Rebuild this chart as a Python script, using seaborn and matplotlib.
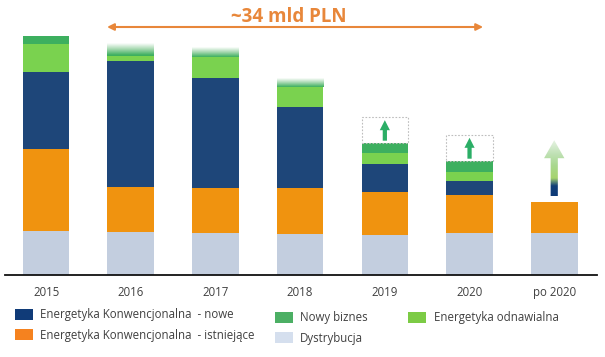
import numpy as np
import pandas as pd
import matplotlib
matplotlib.use("Agg")
import matplotlib.pyplot as plt
import seaborn as sns
from matplotlib.patches import Rectangle, FancyArrow, Patch
from matplotlib.colors import LinearSegmentedColormap

# ---------------- data (arbitrary units) ----------------
years = ["2015", "2016", "2017", "2018", "2019", "2020", "po 2020"]
dystrybucja = [44.0, 42.3, 41.7, 40.7, 40.0, 41.3, 41.3]
konw_istniejace = [81.7, 45.0, 44.6, 45.6, 42.3, 38.7, 31.0]
konw_nowe = [76.6, 126.0, 110.0, 81.0, 28.4, 14.0, 0.0]
odnawialna = [28.4, 5.7, 21.0, 20.0, 11.0, 9.0, 0.0]
nowy_biznes = [7.3, 12.0, 9.4, 8.4, 9.6, 10.3, 0.0]
faded_top = [False, True, True, True, False, False, False]
potential = [0.0, 0.0, 0.0, 0.0, 26.0, 26.4, 0.0]
po2020_growth = 56.0
annotation = "~34 mld PLN"

lab_nowe = "Energetyka Konwencjonalna  - nowe"
lab_ist = "Energetyka Konwencjonalna  - istniejące"
lab_nb = "Nowy biznes"
lab_dys = "Dystrybucja"
lab_odn = "Energetyka odnawialna"

# ---------------- style ----------------
C_NAVY = "#1E4679"
C_ORANGE = "#F0930F"
C_DYS = "#C3CEDF"
C_LG = "#7AD24F"
C_DG = "#3DAF5F"
C_TEXT = "#404040"
C_ANN = "#E8873A"

sns.set_theme(style="white")
plt.rcParams["font.family"] = ["Open Sans", "DejaVu Sans"]

fig = plt.figure(figsize=(6.05, 3.57), dpi=100)
ax = fig.add_axes([5 / 605, 82.5 / 357, 592 / 605, 274.5 / 357])

df = pd.DataFrame({
    "year": years,
    "dys": dystrybucja,
    "ist": konw_istniejace,
    "nowe": konw_nowe,
    "odn": odnawialna,
    "nb": nowy_biznes,
})

W = 0.55
layers = [("dys", C_DYS), ("ist", C_ORANGE), ("nowe", C_NAVY), ("odn", C_LG), ("nb", C_DG)]
bottom = np.zeros(len(years))
bottoms = {}
for col, colr in layers:
    bottoms[col] = bottom.copy()
    sns.barplot(data=df, x="year", y=col, order=years, color=colr, saturation=1,
                width=W, linewidth=0, errorbar=None, bottom=bottom.copy(), ax=ax)
    bottom = bottom + df[col].to_numpy()
totals = bottom

# faded tops (dark green fading to white)
grad = np.linspace(0, 1, 200).reshape(-1, 1)
fade_cmap = LinearSegmentedColormap.from_list("fade", [C_DG, "#A6D8B0", "#FFFFFF"])
for i, f in enumerate(faded_top):
    if f:
        y0 = bottoms["nb"][i]
        y1 = y0 + nowy_biznes[i]
        ax.imshow(grad, cmap=fade_cmap, extent=(i - W / 2, i + W / 2, y0, y1),
                  origin="lower", aspect="auto", zorder=3, interpolation="bilinear")

# dotted "potential" boxes with green arrows
for i, p in enumerate(potential):
    if p > 0:
        top = totals[i]
        ax.add_patch(Rectangle((i - W / 2, top), W, p, fill=False, edgecolor="#BDBDBD",
                               linewidth=0.8, linestyle=(0, (1.5, 1.5)), zorder=3))
        start = top + 2.5
        length = p - 5.5
        ax.add_patch(FancyArrow(i, start, 0, length, width=0.05, head_width=0.12,
                                head_length=10, length_includes_head=True,
                                facecolor="#2BAE66", edgecolor="none", zorder=4))

# gradient arrow for "po 2020"
i = years.index("po 2020")
a0 = totals[i] + 6
arr = FancyArrow(i, a0, 0, po2020_growth, width=0.085, head_width=0.24, head_length=18,
                 length_includes_head=True, facecolor="none", edgecolor="none", zorder=4)
ax.add_patch(arr)
arr_cmap = LinearSegmentedColormap.from_list(
    "arr", [(0.0, "#0E3A78"), (0.18, "#123F78"), (0.32, "#A6D46E"),
            (0.55, "#A9D88F"), (0.75, "#BFE1B4"), (1.0, "#E6F3E3")])
im = ax.imshow(grad, cmap=arr_cmap, extent=(i - 0.15, i + 0.15, a0, a0 + po2020_growth),
               origin="lower", aspect="auto", zorder=4, interpolation="bilinear")
im.set_clip_path(arr)

# top annotation (double-headed arrow)
ax.annotate("", xy=(0.72, 247.5), xytext=(5.16, 247.5),
            arrowprops=dict(arrowstyle="<|-|>", color=C_ANN, lw=1.5,
                            mutation_scale=10, shrinkA=0, shrinkB=0),
            annotation_clip=False)
ax.text(2.86, 258, annotation, ha="center", va="center", fontsize=13.5,
        fontweight="bold", color=C_ANN)

# axes styling
ax.set_xlim(-0.485, 6.505)
ax.set_ylim(0, 274.5)
ax.set_xlabel("")
ax.set_ylabel("")
ax.set_yticks([])
for s in ["left", "right", "top"]:
    ax.spines[s].set_visible(False)
ax.spines["bottom"].set_color("#111111")
ax.spines["bottom"].set_linewidth(1.3)
ax.tick_params(axis="x", length=0, pad=8, labelsize=8.3, labelcolor=C_TEXT)
ax.set_facecolor("white")

# legends
leg_kw = dict(frameon=False, fontsize=8.3, handlelength=1.55, handleheight=1.1,
              handletextpad=0.65, labelspacing=0.68, borderpad=0, borderaxespad=0,
              labelcolor=C_TEXT)
h1 = [Patch(facecolor="#103B78", edgecolor="none"), Patch(facecolor="#F5821F", edgecolor="none")]
leg1 = fig.legend(h1, [lab_nowe, lab_ist], loc="upper left",
                  bbox_to_anchor=(15 / 605, 1 - 308 / 357), **leg_kw)
h2 = [Patch(facecolor="#4CAF64", edgecolor="none"), Patch(facecolor="#D5DFEE", edgecolor="none"),
      Patch(facecolor="#7CCB45", edgecolor="none")]
leg2 = fig.legend(h2, [lab_nb, lab_dys, lab_odn], loc="upper left", ncol=2,
                  columnspacing=3.5, bbox_to_anchor=(275 / 605, 1 - 311 / 357), **leg_kw)

fig.savefig("out.png", dpi=100, facecolor="white")
